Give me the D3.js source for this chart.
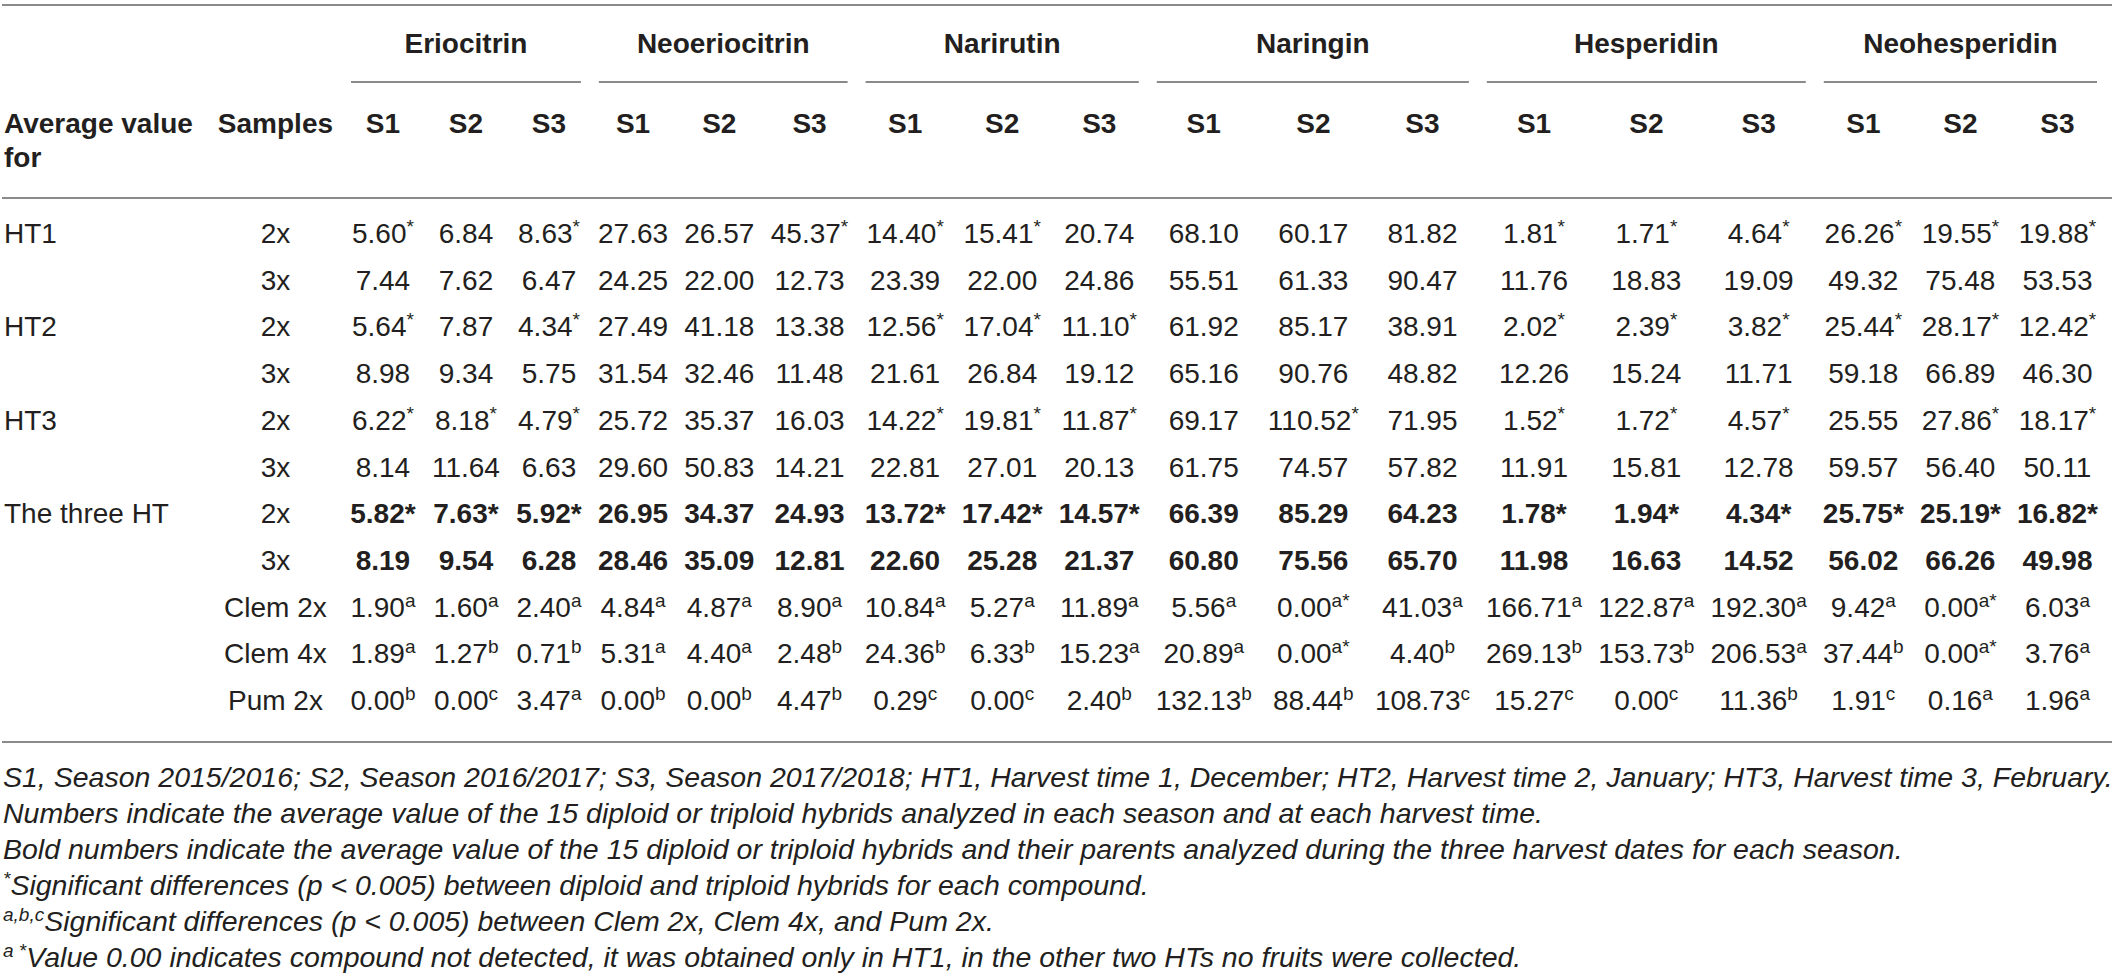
<!DOCTYPE html>
<html>
<head>
<meta charset="utf-8">
<script src="https://cdn.jsdelivr.net/npm/d3@7"></script>
<style>
  body { margin: 0; background: #fff; }
  svg { display: block; font-family: "Liberation Sans", Arial, Helvetica, sans-serif; }
</style>
</head>
<body>
<svg id="tbl"></svg>
<script>
// compounds and seasons (column headers)
var compounds = ["Eriocitrin", "Neoeriocitrin", "Narirutin", "Naringin", "Hesperidin", "Neohesperidin"];
var seasons = ["S1", "S2", "S3"];

// row headers
var rowGroups = ["HT1", "", "HT2", "", "HT3", "", "The three HT", "", "", "", ""];
var samples = ["2x", "3x", "2x", "3x", "2x", "3x", "2x", "3x", "Clem 2x", "Clem 4x", "Pum 2x"];
var boldRows = [0, 0, 0, 0, 0, 0, 1, 1, 0, 0, 0];

// average values, 18 per row (6 compounds x 3 seasons)
var values = [
  [5.60, 6.84, 8.63, 27.63, 26.57, 45.37, 14.40, 15.41, 20.74, 68.10, 60.17, 81.82, 1.81, 1.71, 4.64, 26.26, 19.55, 19.88],
  [7.44, 7.62, 6.47, 24.25, 22.00, 12.73, 23.39, 22.00, 24.86, 55.51, 61.33, 90.47, 11.76, 18.83, 19.09, 49.32, 75.48, 53.53],
  [5.64, 7.87, 4.34, 27.49, 41.18, 13.38, 12.56, 17.04, 11.10, 61.92, 85.17, 38.91, 2.02, 2.39, 3.82, 25.44, 28.17, 12.42],
  [8.98, 9.34, 5.75, 31.54, 32.46, 11.48, 21.61, 26.84, 19.12, 65.16, 90.76, 48.82, 12.26, 15.24, 11.71, 59.18, 66.89, 46.30],
  [6.22, 8.18, 4.79, 25.72, 35.37, 16.03, 14.22, 19.81, 11.87, 69.17, 110.52, 71.95, 1.52, 1.72, 4.57, 25.55, 27.86, 18.17],
  [8.14, 11.64, 6.63, 29.60, 50.83, 14.21, 22.81, 27.01, 20.13, 61.75, 74.57, 57.82, 11.91, 15.81, 12.78, 59.57, 56.40, 50.11],
  [5.82, 7.63, 5.92, 26.95, 34.37, 24.93, 13.72, 17.42, 14.57, 66.39, 85.29, 64.23, 1.78, 1.94, 4.34, 25.75, 25.19, 16.82],
  [8.19, 9.54, 6.28, 28.46, 35.09, 12.81, 22.60, 25.28, 21.37, 60.80, 75.56, 65.70, 11.98, 16.63, 14.52, 56.02, 66.26, 49.98],
  [1.90, 1.60, 2.40, 4.84, 4.87, 8.90, 10.84, 5.27, 11.89, 5.56, 0.00, 41.03, 166.71, 122.87, 192.30, 9.42, 0.00, 6.03],
  [1.89, 1.27, 0.71, 5.31, 4.40, 2.48, 24.36, 6.33, 15.23, 20.89, 0.00, 4.40, 269.13, 153.73, 206.53, 37.44, 0.00, 3.76],
  [0.00, 0.00, 3.47, 0.00, 0.00, 4.47, 0.29, 0.00, 2.40, 132.13, 88.44, 108.73, 15.27, 0.00, 11.36, 1.91, 0.16, 1.96]
];

// significance marks for each value
var marks = [
  ["*", "", "*", "", "", "*", "*", "*", "", "", "", "", "*", "*", "*", "*", "*", "*"],
  ["", "", "", "", "", "", "", "", "", "", "", "", "", "", "", "", "", ""],
  ["*", "", "*", "", "", "", "*", "*", "*", "", "", "", "*", "*", "*", "*", "*", "*"],
  ["", "", "", "", "", "", "", "", "", "", "", "", "", "", "", "", "", ""],
  ["*", "*", "*", "", "", "", "*", "*", "*", "", "*", "", "*", "*", "*", "", "*", "*"],
  ["", "", "", "", "", "", "", "", "", "", "", "", "", "", "", "", "", ""],
  ["*", "*", "*", "", "", "", "*", "*", "*", "", "", "", "*", "*", "*", "*", "*", "*"],
  ["", "", "", "", "", "", "", "", "", "", "", "", "", "", "", "", "", ""],
  ["a", "a", "a", "a", "a", "a", "a", "a", "a", "a", "a*", "a", "a", "a", "a", "a", "a*", "a"],
  ["a", "b", "b", "a", "a", "b", "b", "b", "a", "a", "a*", "b", "b", "b", "a", "b", "a*", "a"],
  ["b", "c", "a", "b", "b", "b", "c", "c", "b", "b", "b", "c", "c", "c", "b", "c", "a", "a"]
];

// footnotes, as [text, superscript] pieces
var notes = [
  [["S1, Season 2015/2016; S2, Season 2016/2017; S3, Season 2017/2018; HT1, Harvest time 1, December; HT2, Harvest time 2, January; HT3, Harvest time 3, February.", 0]],
  [["Numbers indicate the average value of the 15 diploid or triploid hybrids analyzed in each season and at each harvest time.", 0]],
  [["Bold numbers indicate the average value of the 15 diploid or triploid hybrids and their parents analyzed during the three harvest dates for each season.", 0]],
  [["*", 1], ["Significant differences (p < 0.005) between diploid and triploid hybrids for each compound.", 0]],
  [["a,b,c", 1], ["Significant differences (p < 0.005) between Clem 2x, Clem 4x, and Pum 2x.", 0]],
  [["a *", 1], ["Value 0.00 indicates compound not detected, it was obtained only in HT1, in the other two HTs no fruits were collected.", 0]]
];

const W = 2118, H = 977;
const fs = 28, noteFs = 28.5, supFs = 19, supDy = -10;
const pad = 9, left = 2, right = 2106;
const ink = "#231f20", ruleColor = "#8a8a8a";
var fmt = d3.format(".2f");

var svg = d3.select("#tbl").attr("width", W).attr("height", H)
  .attr("font-size", fs).attr("fill", ink);

// row and footnote positions
var y = d3.scalePoint().domain(d3.range(samples.length)).range([233, 700]);
var yNote = d3.scalePoint().domain(d3.range(notes.length)).range([777, 957]);
const base = 10; // centre -> baseline

// flat list of cells
var cells = [];
values.forEach(function(row, r) {
  row.forEach(function(v, c) {
    cells.push({r: r, c: c, v: v, m: marks[r][c]});
  });
});

var body = svg.append("g").attr("class", "cells");
var cellText = body.selectAll("text")
  .data(cells)
  .join("text")
  .attr("y", (d) => y(d.r) + base)
  .attr("text-anchor", "middle")
  .attr("font-weight", (d) => boldRows[d.r] ? "bold" : null)
  .each(function(d) {
    var t = d3.select(this);
    t.append("tspan").text(fmt(d.v));
    if (d.m) {
      if (boldRows[d.r] && d.m == "*") {
        t.append("tspan").text(d.m);
      } else {
        t.append("tspan").attr("font-size", supFs).attr("dy", supDy).text(d.m);
      }
    }
    d.w = this.getBBox().width;
  });

// header texts
var head = svg.append("g").attr("class", "head").attr("font-weight", "bold");

var cols = [];
compounds.forEach(function(g, gi) {
  seasons.forEach(function(s, si) { cols.push({g: gi, s: s, j: gi * 3 + si}); });
});

var seasonText = head.selectAll("text.season")
  .data(cols)
  .join("text")
  .attr("class", "season")
  .attr("y", 133)
  .attr("text-anchor", "middle")
  .text((d) => d.s)
  .each(function(d) { d.w = this.getBBox().width; });

var avgText = head.append("text").attr("x", left + 2).attr("y", 133).text("Average value");
head.append("text").attr("x", left + 2).attr("y", 167).text("for");
var samplesText = head.append("text").attr("y", 133).attr("text-anchor", "middle").text("Samples");

// column widths from content, like an auto table layout
var w0 = avgText.node().getBBox().width + 2 * pad;
var w1 = samplesText.node().getBBox().width + 2 * pad;
var x0 = left + w0 + w1;

cols.forEach(function(col) {
  var m = d3.max(cells.filter((d) => d.c == col.j), (d) => d.w);
  col.width = Math.max(m, col.w) + 2 * pad;
});
var cum = [0].concat(Array.from(d3.cumsum(cols, (d) => d.width)));
var x = d3.scaleLinear().domain([0, cum[cum.length - 1]]).range([x0, right]);
cols.forEach(function(col, j) {
  col.x0 = x(cum[j]);
  col.x1 = x(cum[j + 1]);
  col.cx = (col.x0 + col.x1) / 2;
});

samplesText.attr("x", left + w0 + w1 / 2);
seasonText.attr("x", (d) => d.cx);
cellText.attr("x", (d) => cols[d.c].cx);

// compound group headers + underlines
var groups = compounds.map(function(g, gi) {
  return {name: g, x0: cols[gi * 3].x0, x1: cols[gi * 3 + 2].x1};
});
head.selectAll("text.group")
  .data(groups)
  .join("text")
  .attr("class", "group")
  .attr("x", (d) => (d.x0 + d.x1) / 2)
  .attr("y", 53)
  .attr("text-anchor", "middle")
  .text((d) => d.name);

var rules = svg.append("g").attr("stroke", ruleColor).attr("fill", "none");
rules.selectAll("line.under")
  .data(groups)
  .join("line")
  .attr("class", "under")
  .attr("x1", (d) => d.x0 + pad)
  .attr("x2", (d) => d.x1 - pad)
  .attr("y1", 82).attr("y2", 82)
  .attr("stroke-width", 1.8);

rules.selectAll("line.rule")
  .data([5, 198, 742])
  .join("line")
  .attr("class", "rule")
  .attr("x1", left).attr("x2", right + 6)
  .attr("y1", (d) => d).attr("y2", (d) => d)
  .attr("stroke-width", 2);

// row labels
var rowsG = svg.append("g").attr("class", "rows");
rowsG.selectAll("text.grp")
  .data(rowGroups)
  .join("text")
  .attr("class", "grp")
  .attr("x", left + 2)
  .attr("y", (d, i) => y(i) + base)
  .text((d) => d);

rowsG.selectAll("text.smp")
  .data(samples)
  .join("text")
  .attr("class", "smp")
  .attr("x", left + w0 + w1 / 2)
  .attr("y", (d, i) => y(i) + base)
  .attr("text-anchor", "middle")
  .text((d) => d);

// footnotes
svg.append("g").attr("class", "notes")
  .attr("font-style", "italic")
  .attr("font-size", noteFs)
  .selectAll("text")
  .data(notes)
  .join("text")
  .attr("x", left + 1)
  .attr("y", (d, i) => yNote(i) + base)
  .each(function(parts) {
    var t = d3.select(this);
    var up = false;
    parts.forEach(function(p) {
      var ts = t.append("tspan").text(p[0]);
      if (p[1]) {
        ts.attr("font-size", supFs).attr("dy", supDy);
        up = true;
      } else if (up) {
        ts.attr("dy", -supDy);
        up = false;
      }
    });
  });
</script>
</body>
</html>
